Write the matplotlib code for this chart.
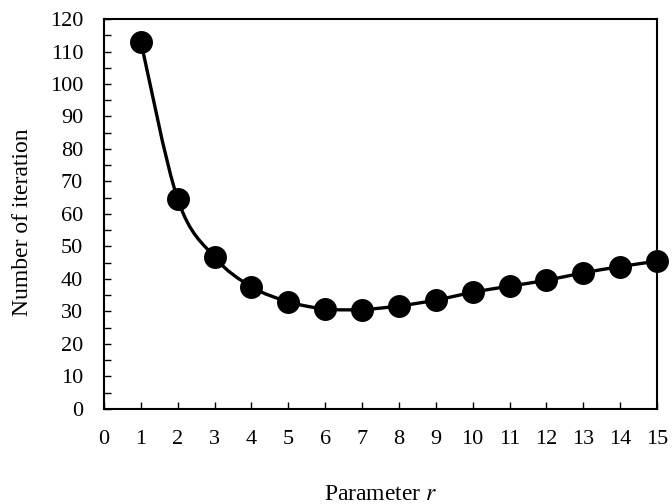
import numpy as np
import matplotlib
matplotlib.use("Agg")
import matplotlib.pyplot as plt
from matplotlib.path import Path
from matplotlib.patches import PathPatch

# values
r_values = [1, 2, 3, 4, 5, 6, 7, 8, 9, 10, 11, 12, 13, 14, 15]
iterations = [113, 64.5, 46.7, 37.6, 33.0, 30.8, 30.6, 31.7, 33.5, 35.9, 37.8, 39.6, 41.9, 43.8, 45.5]
x_ticks = list(range(0, 16))
y_ticks = list(range(0, 121, 10))

plt.rcParams["font.family"] = ["Liberation Serif", "DejaVu Serif"]
plt.rcParams["mathtext.fontset"] = "stix"

fig = plt.figure(figsize=(6.72, 5.04), dpi=100)
ax = fig.add_axes([0.1548, 0.1885, 0.8229, 0.7738])


def smooth_path(xs, ys, k=1.0 / 6):
    # Excel-style smoothed line: cubic bezier through each point
    pts = np.column_stack([xs, ys]).astype(float)
    n = len(pts)
    verts = [pts[0]]
    codes = [Path.MOVETO]
    for i in range(n - 1):
        p0 = pts[i - 1] if i > 0 else pts[i]
        p1 = pts[i]
        p2 = pts[i + 1]
        p3 = pts[i + 2] if i + 2 < n else pts[i + 1]
        verts += [p1 + (p2 - p0) * k, p2 - (p3 - p1) * k, p2]
        codes += [Path.CURVE4] * 3
    return Path(verts, codes)


line = PathPatch(smooth_path(r_values, iterations), facecolor="none",
                 edgecolor="black", linewidth=2.4, zorder=2)
ax.add_patch(line)
ax.plot(r_values, iterations, linestyle="none", marker="o", markersize=15.5,
        color="black", zorder=3, clip_on=False)

ax.set_xlim(0, 15)
ax.set_ylim(0, 120)
ax.set_xticks(x_ticks)
ax.set_yticks(y_ticks)
ax.set_yticks(np.arange(5, 120, 10), minor=True)
ax.tick_params(axis="both", which="both", direction="in", length=5, width=1,
               labelsize=16)
ax.tick_params(axis="x", pad=15)
ax.tick_params(axis="y", pad=15)

for s in ax.spines.values():
    s.set_linewidth(1.5)

ax.set_xlabel("Parameter $r$", fontsize=17, labelpad=25)
ax.set_ylabel("Number of iteration", fontsize=17, labelpad=12)
ax.yaxis.label.set_y(0.48)

fig.savefig("out.png", dpi=100)
